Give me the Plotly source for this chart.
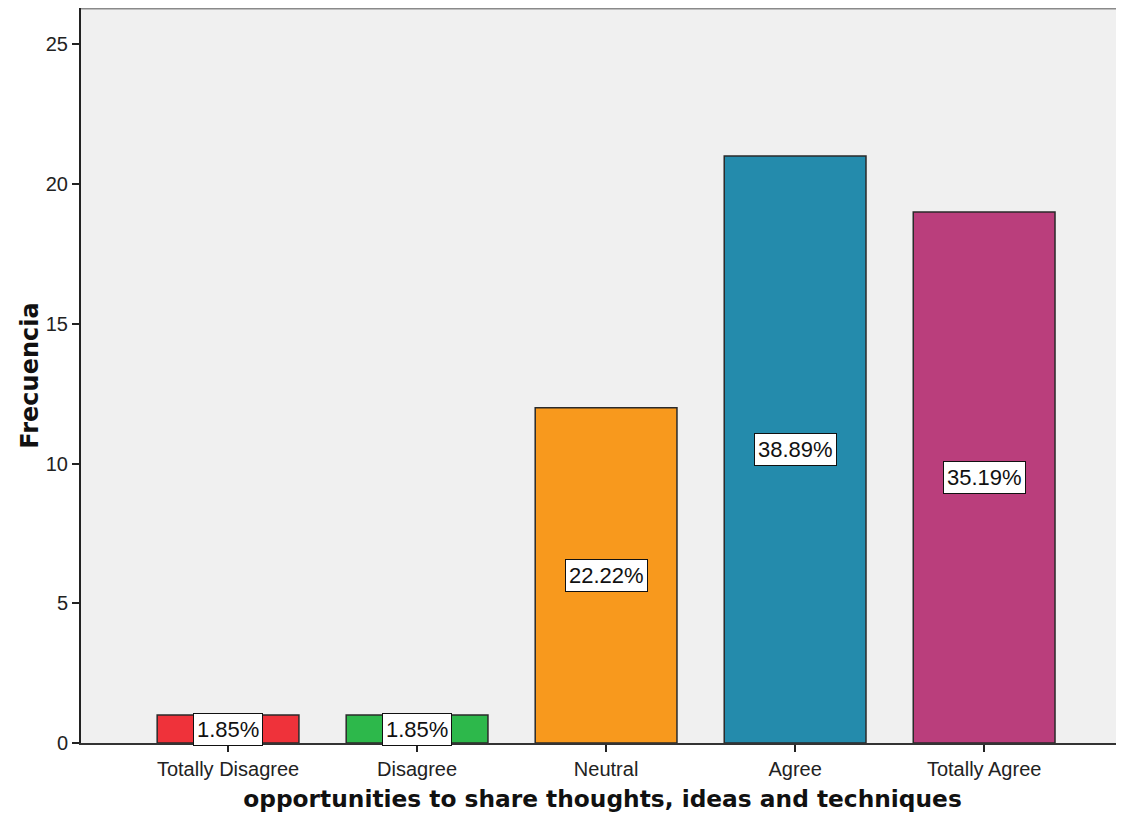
import plotly.graph_objects as go

categories = ["Totally Disagree", "Disagree", "Neutral", "Agree", "Totally Agree"]
counts = [1, 1, 12, 21, 19]
percent_labels = ["1.85%", "1.85%", "22.22%", "38.89%", "35.19%"]
colors = ["#EF323A", "#2DB84B", "#F8991D", "#248BAC", "#BA3E7C"]
y_ticks = [0, 5, 10, 15, 20, 25]

fig = go.Figure()
fig.add_trace(go.Bar(
    x=categories,
    y=counts,
    marker=dict(color=colors, line=dict(color="#2a2a2a", width=1.5)),
    width=0.75,
    hoverinfo="skip",
))

for cat, val, lab in zip(categories, counts, percent_labels):
    fig.add_annotation(
        x=cat, y=val / 2, text=lab, showarrow=False,
        font=dict(family="Liberation Sans", size=22, color="#111111"),
        bgcolor="white", bordercolor="#111111", borderwidth=1, borderpad=3,
    )

# top border of the plot frame
fig.add_shape(type="line", xref="paper", yref="paper", x0=0, x1=1, y0=1, y1=1,
              line=dict(color="#8a8a8a", width=3))

fig.update_layout(
    width=1116, height=813,
    margin=dict(l=73, r=0, t=0, b=78),
    paper_bgcolor="white",
    plot_bgcolor="#f0f0f0",
    showlegend=False,
    font=dict(family="Liberation Sans", color="#222222"),
    xaxis=dict(
        range=[-0.778, 4.74],
        showgrid=False, zeroline=False,
        showline=True, linecolor="#333333", linewidth=2,
        ticks="outside", ticklen=7, tickcolor="#222222", tickwidth=1.5,
        tickfont=dict(family="Liberation Sans", size=20, color="#222222"),
        title=dict(text="opportunities to share thoughts, ideas and techniques",
                   font=dict(family="DejaVu Sans", size=23.3, color="#111111", weight="bold"),
                   standoff=12),
    ),
    yaxis=dict(
        range=[0, 26.3],
        tickvals=y_ticks,
        showgrid=False, zeroline=False,
        showline=True, linecolor="#222222", linewidth=2,
        ticks="outside", ticklen=7, tickcolor="#222222", tickwidth=1.5,
        tickfont=dict(family="Liberation Sans", size=20, color="#222222"),
        title=dict(text="Frecuencia",
                   font=dict(family="DejaVu Sans", size=24, color="#111111", weight="bold"),
                   standoff=0),
    ),
)

fig.write_html("out.html")
